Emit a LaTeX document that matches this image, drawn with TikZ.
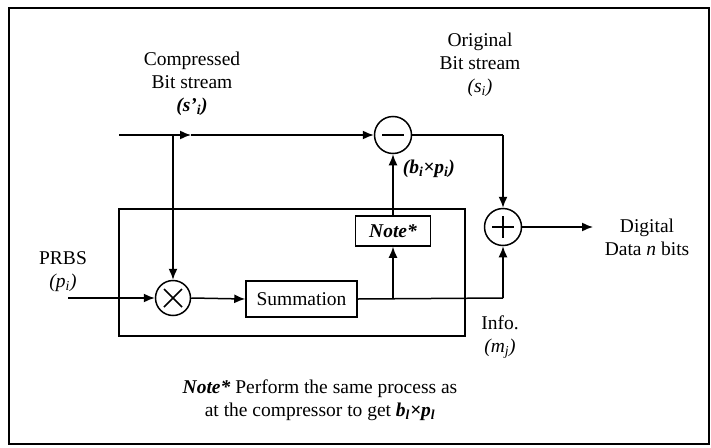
\documentclass[tikz,border=0pt]{standalone}
\usepackage{fontspec}
\setmainfont{Liberation Serif}
\usetikzlibrary{arrows.meta}
\begin{document}
\begin{tikzpicture}[x=1pt,y=-1pt,
  line width=1.5pt,
  lbl/.style={font=\fontsize{19.5}{23}\selectfont, align=center, inner sep=0pt},
  opnode/.style={circle, draw, minimum size=37pt, inner sep=0pt},
  blk/.style={draw, rectangle, inner sep=0pt},
  arr/.style={-{Latex[length=11pt,width=9pt]}}
]
\useasboundingbox (0,0) rectangle (711,447);
\draw[line width=1.6pt] (9,8) rectangle (709,444);
% inner box
\draw (119,209) rectangle (465,336);
% operator circles
\node[opnode] (minus) at (393,135) {};
\draw (minus.center) ++(-11,0) -- ++(22,0);
\node[opnode] (plus) at (503,227) {};
\draw (plus.center) ++(-11,0) -- ++(22,0);
\draw (plus.center) ++(0,-11) -- ++(0,22);
\node[opnode, minimum size=35pt] (mult) at (173,298) {};
\draw (mult.center) ++(-9,-9) -- ++(18,18);
\draw (mult.center) ++(-9,9) -- ++(18,-18);
% blocks
\node[blk, minimum width=111pt, minimum height=36pt, font=\fontsize{19.5}{23}\selectfont] (sum) at (301.5,299) {Summation};
\node[blk, minimum width=75pt, minimum height=30pt, font=\fontsize{19.5}{23}\selectfont\bfseries\itshape] (note) at (393,231) {Note*};
% coordinates
\coordinate (start) at (119,135);
\coordinate (jn) at (173,135);
\coordinate (mid) at (191,135);
\coordinate (prbs) at (68,298);
\coordinate (br) at (393,298);
\coordinate (cr) at (503,135);
\coordinate (cb) at (503,298);
\coordinate (out) at (593,227);
% connectors
\draw[arr] (start) -- (mid);
\draw[arr] (mid) -- (minus.west);
\draw[arr] (jn) -- (mult.north);
\draw[arr] (prbs) -- (mult.west);
\draw[arr] (mult.east) -- (sum.west);
\draw (sum.east) -- (cb);
\draw[arr] (cb) -- (plus.south);
\draw[arr] (br) -- (note.south);
\draw[arr] (note.north) -- (minus.south);
\draw (minus.east) -- (cr);
\draw[arr] (cr) -- (plus.north);
\draw[arr] (plus.east) -- (out);
% labels
\node[lbl] (tcomp) at (192,84) {Compressed\\Bit stream\\\textbf{\textit{(s'\textsubscript{i})}}};
\node[lbl] (torig) at (480,65) {Original\\Bit stream\\\textit{(s\textsubscript{i})}};
\node[lbl] (tprbs) at (63,272) {PRBS\\\textit{(p\textsubscript{i})}};
\node[lbl, anchor=west] (tbp) at (402,169) {\textbf{\textit{(b\textsubscript{i}×p\textsubscript{i})}}};
\node[lbl] (tdig) at (647,237) {Digital\\Data \textit{n} bits};
\node[lbl] (tinfo) at (500,337) {Info.\\\textit{(m\textsubscript{j})}};
\node[lbl] (tnote) at (320,400) {\textbf{\textit{Note*}} Perform the same process as\\at the compressor to get \textbf{\textit{b\textsubscript{l}×p\textsubscript{l}}}};
\end{tikzpicture}
\end{document}
